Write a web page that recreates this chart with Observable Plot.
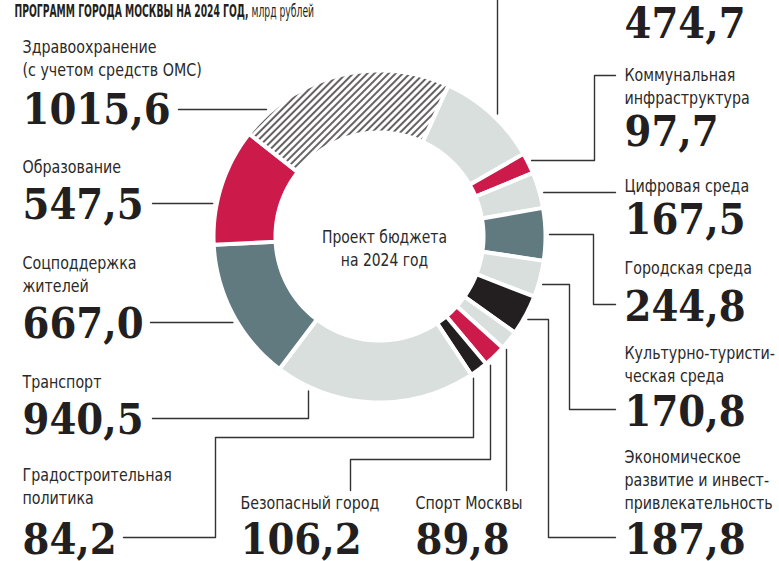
<!DOCTYPE html>
<html><head><meta charset="utf-8">
<script src="https://cdn.jsdelivr.net/npm/d3@7"></script>
<script src="https://cdn.jsdelivr.net/npm/@observablehq/plot@0.6"></script>
<style>
html,body{margin:0;padding:0;background:#fff;}
#chart svg{display:block;}
</style></head><body><div id="chart"></div>
<script>
// ---- data ----
const categories = ["Жилище", "Коммунальная инфраструктура", "Цифровая среда", "Городская среда",
  "Культурно-туристическая среда", "Экономическое развитие и инвестпривлекательность", "Спорт Москвы",
  "Безопасный город", "Градостроительная политика", "Транспорт", "Соцподдержка жителей",
  "Образование", "Здравоохранение (с учетом средств ОМС)"];
const values = [474.7, 97.7, 167.5, 244.8, 170.8, 187.8, 89.8, 106.2, 84.2, 940.5, 667.0, 547.5, 1015.6];
const labelNames = ["", "Коммунальная\nинфраструктура", "Цифровая среда", "Городская среда",
  "Культурно-туристи-\nческая среда", "Экономическое\nразвитие и инвест-\nпривлекательность", "Спорт Москвы",
  "Безопасный город", "Градостроительная\nполитика", "Транспорт", "Соцподдержка\nжителей",
  "Образование", "Здравоохранение\n(с учетом средств ОМС)"];
const segmentKinds = ["light", "red", "light", "slate", "light", "black", "light", "red", "black", "light", "slate", "red", "hatch"];
const titleBold = "ПРОГРАММ ГОРОДА МОСКВЫ НА 2024 ГОД,";
const titleUnit = " млрд рублей";
const centerLines = ["Проект бюджета", "на 2024 год"];

// ---- layout / style ----
const W = 779, H = 561, cx = 379, cy = 236, R0 = 104, R1 = 166, RL = 170;
const startAngle = 24.5 * Math.PI / 180;
const kindColors = {light: "#d8dfdc", red: "#cc1b4b", slate: "#617a80", black: "#231f20", hatch: "url(#hatch)"};
const sansFont = "'Liberation Sans Narrow', 'DejaVu Sans Condensed', sans-serif";
const serifFont = "'DejaVu Serif Condensed', 'DejaVu Serif', serif";
// label anchor: [x, value baseline, first name-line baseline]
const labelPos = [
  [624, 37, null], [624, 145, 80], [624, 233, 191], [624, 320, 273], [624, 425, 358],
  [624, 553, 462], [415, 553, 508], [240, 553, 508], [22, 553, 480], [22, 433, 387],
  [22, 337, 268], [22, 218, 172], [22, 123, 52]
];
const nameStep = 23;
const condense = {names: 0.88, center: 0.86, title: 0.57};
// leader lines: start where a horizontal (h) / vertical (v) line meets the ring, then elbows
const leaders = [
  {dir: "v", at: 497, side: -1, path: [[497, 0]]},
  {dir: "h", at: 160, side: 1, path: [[594, 160], [594, 75], [615, 75]]},
  {dir: "h", at: 192, side: 1, path: [[615, 192]]},
  {dir: "h", at: 234, side: 1, path: [[593, 234], [593, 304], [615, 304]]},
  {dir: "h", at: 284, side: 1, path: [[569, 284], [569, 409], [615, 409]]},
  {dir: "h", at: 319, side: 1, path: [[548, 319], [548, 537], [615, 537]]},
  {dir: "v", at: 506, side: 1, path: [[506, 490]]},
  {dir: "v", at: 490, side: 1, path: [[490, 459], [350, 459], [350, 490]]},
  {dir: "v", at: 473, side: 1, path: [[473, 437], [215, 437], [215, 537], [123, 537]]},
  {dir: "v", at: 308, side: 1, path: [[308, 418], [152, 418]]},
  {dir: "h", at: 322, side: -1, path: [[150, 322]]},
  {dir: "h", at: 203, side: -1, path: [[152, 203]]},
  {dir: "h", at: 109, side: -1, path: [[178, 109]]}
];

// ---- derived geometry ----
const arcs = d3.pie().sort(null).value(d => d).startAngle(startAngle).endAngle(startAngle + 2 * Math.PI)(values);
const ringPoints = [];
arcs.forEach((a, i) => {
  const n = Math.max(2, Math.ceil((a.endAngle - a.startAngle) / (Math.PI / 180)));
  const name = categories[i];
  for (let k = 0; k <= n; k++) {
    const t = a.startAngle + (a.endAngle - a.startAngle) * k / n;
    ringPoints.push({name, x: cx + R1 * Math.sin(t), y: cy - R1 * Math.cos(t)});
  }
  for (let k = n; k >= 0; k--) {
    const t = a.startAngle + (a.endAngle - a.startAngle) * k / n;
    ringPoints.push({name, x: cx + R0 * Math.sin(t), y: cy - R0 * Math.cos(t)});
  }
});
const leaderPoints = [];
leaders.forEach((l, i) => {
  const name = categories[i];
  let p0;
  if (l.dir === "h") p0 = [cx + l.side * Math.sqrt(RL * RL - (l.at - cy) ** 2), l.at];
  else p0 = [l.at, cy + l.side * Math.sqrt(RL * RL - (l.at - cx) ** 2)];
  [p0, ...l.path].forEach(p => leaderPoints.push({name, x: p[0], y: p[1]}));
});
const valueRows = values.map((v, i) => ({x: labelPos[i][0], y: labelPos[i][1], text: v.toFixed(1).replace(".", ",")}));
const nameRows = [];
labelNames.forEach((s, i) => {
  if (!s) return;
  s.split("\n").forEach((t, j) => nameRows.push({x: labelPos[i][0], y: labelPos[i][2] + j * nameStep, text: t}));
});
const centerRows = centerLines.map((t, j) => ({x: cx + 5, y: 242 + j * 23, text: t}));

const svg = Plot.plot({
  width: W, height: H, margin: 0,
  x: {domain: [0, W], range: [0, W], axis: null},
  y: {domain: [0, H], range: [0, H], axis: null},
  color: {type: "ordinal", domain: categories, range: segmentKinds.map(k => kindColors[k])},
  style: {background: "#fff", overflow: "visible"},
  marks: [
    Plot.line(ringPoints, {x: "x", y: "y", z: "name", fill: "name", stroke: "#fff", strokeWidth: 4, curve: "linear-closed"}),
    Plot.line(leaderPoints, {x: "x", y: "y", z: "name", stroke: "#333", strokeWidth: 1.4, curve: "linear"}),
    Plot.text(valueRows, {x: "x", y: "y", text: "text", textAnchor: "start", lineAnchor: "bottom",
      fontFamily: serifFont, fontWeight: "bold", fontSize: 43, fill: "#231f20"}),
    Plot.text(nameRows, {x: "x", y: "y", text: "text", textAnchor: "start", lineAnchor: "bottom",
      fontFamily: sansFont, fontSize: 18, fill: "#2a2a2a"}),
    Plot.text(centerRows, {x: "x", y: "y", text: "text", textAnchor: "middle", lineAnchor: "bottom",
      fontFamily: sansFont, fontSize: 18, fill: "#2a2a2a"}),
    Plot.text([titleBold], {x: () => 14, y: () => 16, text: d => d, textAnchor: "start", lineAnchor: "bottom",
      fontFamily: sansFont, fontWeight: "bold", fontSize: 18, fill: "#231f20"})
  ]
});
const s = d3.select(svg);
const defs = s.insert("defs", ":first-child");
const pat = defs.append("pattern").attr("id", "hatch").attr("patternUnits", "userSpaceOnUse")
  .attr("width", 5).attr("height", 5).attr("patternTransform", "rotate(45)");
pat.append("rect").attr("width", 5).attr("height", 5).attr("fill", "#fff");
pat.append("line").attr("x1", 1).attr("y1", 0).attr("x2", 1).attr("y2", 5).attr("stroke", "#231f20").attr("stroke-width", 1.4);
s.selectAll("text").filter(function() { return this.textContent === titleBold; })
  .append("tspan").attr("font-weight", "normal").text(titleUnit);
// horizontally condense the sans-serif texts (narrow newspaper face)
function condenseGroup(g, k) {
  d3.select(g).selectAll("text").each(function() {
    const t = d3.select(this);
    const tr = t.attr("transform");
    if (tr) t.attr("transform", tr + ` scale(${k},1)`);
    else {
      const x = +t.attr("x") || 0, y = +t.attr("y") || 0;
      t.attr("x", null).attr("y", null).attr("transform", `translate(${x},${y}) scale(${k},1)`);
    }
  });
}
const textGroups = s.selectAll('g[aria-label="text"]').nodes();
condenseGroup(textGroups[1], condense.names);
condenseGroup(textGroups[2], condense.center);
condenseGroup(textGroups[3], condense.title);
document.getElementById("chart").appendChild(svg);
</script>
</body></html>
